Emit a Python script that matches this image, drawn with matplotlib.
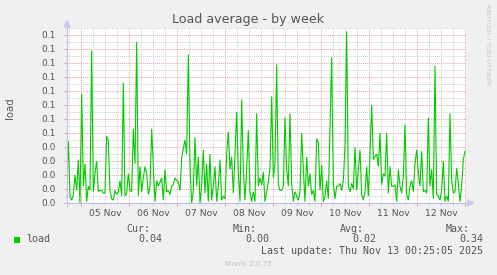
import matplotlib
matplotlib.use("Agg")
import matplotlib.pyplot as plt
import matplotlib.dates as mdates
from matplotlib.patches import Rectangle, Polygon
from matplotlib.lines import Line2D
import pandas as pd

# ---------------- data ----------------
title = "Load average - by week"
series_name = "load"
ylabel = "load"
start_time = "2025-11-04 16:50"
step = "50min"
load = [
    0.008, 0.044, 0.005, 0.002, 0.006, 0.020, 0.009, 0.031, 0.000, 0.078,
    0.012, 0.028, 0.001, 0.012, 0.009, 0.109, 0.008, 0.021, 0.030, 0.008,
    0.009, 0.009, 0.007, 0.007, 0.048, 0.044, 0.009, 0.003, 0.002, 0.009,
    0.006, 0.008, 0.016, 0.005, 0.086, 0.005, 0.007, 0.021, 0.009, 0.008,
    0.053, 0.028, 0.115, 0.005, 0.026, 0.008, 0.018, 0.026, 0.021, 0.006,
    0.012, 0.053, 0.026, 0.001, 0.016, 0.012, 0.015, 0.018, 0.002, 0.024,
    0.008, 0.009, 0.006, 0.012, 0.013, 0.018, 0.016, 0.015, 0.009, 0.032,
    0.039, 0.045, 0.035, 0.106, 0.026, 0.000, 0.009, 0.047, 0.012, 0.033,
    0.000, 0.012, 0.038, 0.007, 0.028, 0.001, 0.035, 0.002, 0.012, 0.026,
    0.001, 0.012, 0.031, 0.002, 0.005, 0.003, 0.035, 0.051, 0.024, 0.033,
    0.007, 0.035, 0.065, 0.022, 0.001, 0.074, 0.024, 0.002, 0.024, 0.052,
    # second half
    0.008, 0.001, 0.008, 0.001, 0.064, 0.012, 0.018, 0.013, 0.022, 0.001,
    0.008, 0.015, 0.025, 0.076, 0.018, 0.028, 0.099, 0.013, 0.009, 0.009,
    0.012, 0.061, 0.024, 0.012, 0.064, 0.014, 0.001, 0.008, 0.005, 0.002,
    0.008, 0.050, 0.024, 0.001, 0.033, 0.012, 0.021, 0.006, 0.009, 0.001,
    0.046, 0.043, 0.009, 0.027, 0.001, 0.005, 0.016, 0.003, 0.055, 0.104,
    0.014, 0.003, 0.012, 0.012, 0.014, 0.009, 0.016, 0.041, 0.1226, 0.012,
    0.008, 0.014, 0.010, 0.040, 0.009, 0.024, 0.038, 0.006, 0.002, 0.008,
    0.026, 0.005, 0.035, 0.070, 0.031, 0.033, 0.035, 0.026, 0.050, 0.013,
    0.021, 0.019, 0.050, 0.007, 0.026, 0.012, 0.012, 0.013, 0.001, 0.024,
    0.012, 0.007, 0.019, 0.056, 0.006, 0.002, 0.012, 0.016, 0.008, 0.028,
    0.038, 0.021, 0.012, 0.037, 0.008, 0.009, 0.007, 0.061, 0.012, 0.024,
    0.003, 0.098, 0.006, 0.005, 0.002, 0.009, 0.030, 0.001, 0.005, 0.001,
    0.064, 0.016, 0.007, 0.008, 0.025, 0.014, 0.001, 0.012, 0.031, 0.037,
]
ytick_values = [i / 100 for i in range(13)]
x_start = "2025-11-04 17:00"
x_end = "2025-11-13 00:15"
stat_names = ["Cur:", "Min:", "Avg:", "Max:"]
stat_values = ["0.04", "0.00", "0.02", "0.34"]
last_update = "Last update: Thu Nov 13 00:25:05 2025"
footer = "Munin 2.0.75"
watermark = "RRDTOOL / TOBI OETIKER"

# ---------------- styling ----------------
W, H = 497, 275
BG = "#F0F0F0"
TXT = "#555555"
GREEN = "#00CC00"
MAJ = "#E7A3A3"
MIN = "#CFCFCF"
AXC = "#BDBDEE"

times = pd.date_range(start=start_time, periods=len(load), freq=step)

fig = plt.figure(figsize=(W / 100, H / 100), dpi=100, facecolor=BG)
L, R, T, B = 67, 465.5, 28, 203
ax = fig.add_axes([L / W, 1 - B / H, (R - L) / W, (B - T) / H])
ax.set_facecolor("white")
for s in ax.spines.values():
    s.set_visible(False)

ax.plot(times, load, color=GREEN, lw=0.8, solid_joinstyle="miter", zorder=5)
ax.set_xlim(pd.Timestamp(x_start), pd.Timestamp(x_end))
ax.set_ylim(0, 0.125)

# y grid
ax.set_yticks(ytick_values)
ax.set_yticklabels([f"{v:.1f}" for v in ytick_values])
ax.set_yticks([v + 0.005 for v in ytick_values], minor=True)
# x grid
ax.xaxis.set_major_locator(mdates.DayLocator())
ax.xaxis.set_major_formatter(plt.NullFormatter())
ax.xaxis.set_minor_locator(mdates.HourLocator(byhour=[6, 12, 18]))

ax.grid(which="major", color=MAJ, lw=0.7, linestyle=(0, (1, 1)), zorder=1)
ax.grid(which="minor", color=MIN, lw=0.7, linestyle=(0, (1, 1)), zorder=0)
ax.set_axisbelow(True)

ax.tick_params(axis="y", which="major", length=2, color=MAJ, pad=6,
               labelsize=6.5, labelcolor=TXT)
ax.tick_params(axis="y", which="minor", length=1.5, color=MIN)
ax.tick_params(axis="x", which="major", length=2.5, color=MAJ)
ax.tick_params(axis="x", which="minor", length=1.5, color=MIN)
for lab in ax.get_yticklabels():
    lab.set_family("DejaVu Sans")

# x labels at noon
sec = ax.secondary_xaxis("bottom")
sec.xaxis.set_major_locator(mdates.HourLocator(byhour=[12]))
sec.xaxis.set_major_formatter(mdates.DateFormatter("%d %b"))
sec.tick_params(length=0, pad=4, labelsize=6.7, labelcolor=TXT)
for s in sec.spines.values():
    s.set_visible(False)

# axes with arrows
ax.add_line(Line2D([-0.008, 1.012], [0, 0], transform=ax.transAxes, color=AXC,
                   lw=0.8, clip_on=False, zorder=6))
ax.add_line(Line2D([0, 0], [-0.017, 1.005], transform=ax.transAxes, color=AXC,
                   lw=0.8, clip_on=False, zorder=6))
pw, ph = (R - L), (B - T)
ax.add_patch(Polygon([(1.0 + 2 / pw, 3 / ph), (1.0 + 2 / pw, -3 / ph), (1.0 + 8 / pw, 0)],
                     closed=True, transform=ax.transAxes, color="#C8C8F4",
                     clip_on=False, zorder=6))
ax.add_patch(Polygon([(-3 / pw, 1.0 + 1 / ph), (3 / pw, 1.0 + 1 / ph), (0, 1.0 + 7 / ph)],
                     closed=True, transform=ax.transAxes, color="#C8C8F4",
                     clip_on=False, zorder=6))

def fx(px):
    return px / W

def fy(py):
    return 1 - py / H

fig.text(fx(248), fy(19.5), title, ha="center", va="center", fontsize=9.1,
         color=TXT, family="DejaVu Sans")
fig.text(fx(10), fy(108), ylabel, ha="center", va="center", rotation=90,
         fontsize=7.3, color=TXT, family="DejaVu Sans")
fig.text(fx(488.5), fy(4), watermark, ha="center", va="top", rotation=-90,
         fontsize=4.6, color="#C4C4C4", family="DejaVu Sans")

mono = "DejaVu Sans Mono"
fs = 7.2
fig.patches.append(Rectangle((fx(14), fy(243)), 6 / W, 6 / H, transform=fig.transFigure,
                             facecolor=GREEN, edgecolor="none", figure=fig))
fig.text(fx(26.5), fy(239.5), series_name, ha="left", va="center", fontsize=fs,
         color=TXT, family=mono)
name_right = [150.7, 257, 363.5, 470]
val_right = [162.7, 269, 376, 483]
for n, xr in zip(stat_names, name_right):
    fig.text(fx(xr), fy(228.5), n, ha="right", va="center", fontsize=fs,
             color=TXT, family=mono)
for v, xr in zip(stat_values, val_right):
    fig.text(fx(xr), fy(239.5), v, ha="right", va="center", fontsize=fs,
             color=TXT, family=mono)
fig.text(fx(483), fy(251), last_update, ha="right", va="center", fontsize=fs,
         color=TXT, family=mono)
fig.text(fx(248), fy(264), footer, ha="center", va="center", fontsize=5.1,
         color="#BDBDBD", family="DejaVu Sans")

fig.savefig("out.png", dpi=100, facecolor=BG)
